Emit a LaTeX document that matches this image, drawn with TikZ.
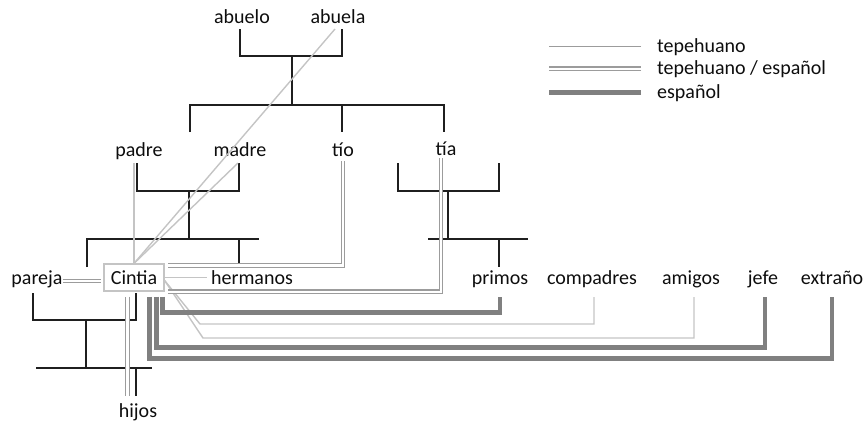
\documentclass[tikz,border=0pt]{standalone}
\usepackage{fontspec}
\setmainfont{Carlito}
\definecolor{txt}{HTML}{0D0D0D}
\definecolor{blk}{HTML}{1F1F1F}
\definecolor{lite}{HTML}{C4C4C4}
\definecolor{dblc}{HTML}{9C9C9C}
\definecolor{thk}{HTML}{808080}
\begin{document}
\begin{tikzpicture}[x=1pt,y=-1pt,
  lbl/.style={font=\fontsize{20}{24}\selectfont, text=txt, inner sep=0pt, anchor=base},
  tree/.style={draw=blk, line width=1.6pt},
  tep/.style={draw=lite, line width=1.4pt},
  dbl/.style={draw=dblc, line width=1.3pt, double=white, double distance=2.2pt},
  esp/.style={draw=thk, line width=4.5pt}]
\useasboundingbox (0,0) rectangle (865,421);
% labels
\node[lbl] (abuelo) at (242,23) {abuelo};
\node[lbl] (abuela) at (338,23) {abuela};
\node[lbl] (padre) at (139,156) {padre};
\node[lbl] (madre) at (240,156) {madre};
\node[lbl] (tio) at (343,156) {tío};
\node[lbl] (tia) at (446,155) {tía};
\node[lbl] (pareja) at (37,284) {pareja};
\node[draw=lite, line width=1.2pt, minimum width=60pt, minimum height=27pt, inner sep=0pt,
      font=\fontsize{20}{24}\selectfont, text=txt] (Cintia) at (134,277.5) {Cintia};
\node[lbl] (hermanos) at (252,284) {hermanos};
\node[lbl] (primos) at (500,284) {primos};
\node[lbl] (compadres) at (592,284) {compadres};
\node[lbl] (amigos) at (691,284) {amigos};
\node[lbl] (jefe) at (763,284) {jefe};
\node[lbl] (extrano) at (832,284) {extraño};
\node[lbl] (hijos) at (138,417) {hijos};
% legend
\node[lbl, anchor=base west] (l1) at (657,52) {tepehuano};
\node[lbl, anchor=base west] (l2) at (657,74) {tepehuano / español};
\node[lbl, anchor=base west] (l3) at (657,98) {español};
\draw[tep, draw=dblc] ([xshift=-16pt]l1.west) -- ++(-92,0);
\draw[dbl] ([xshift=-16pt]l2.west) -- ++(-92,0);
\draw[esp, line width=5.5pt] ([xshift=-16pt]l3.west) -- ++(-92,0);
% family tree (black)
\draw[tree] ([xshift=-2pt,yshift=-6pt]abuelo.base) -- ++(0,27) -| ([xshift=4pt,yshift=-6pt]abuela.base);
\draw[tree] (292,56) -- (292,105);
\draw[tree] (190,132) -- (190,105) -- (444,105) -- (444,132);
\draw[tree] (342,105) -- (342,132);
\draw[tree] (137,163) -- (137,191) -- (239,191) -- (239,163);
\draw[tree] (189,191) -- (189,239);
\draw[tree] (87,267) -- (87,239) -- (259,239);
\draw[tree] (239,239) -- (239,267);
\draw[tree] (398,163) -- (398,191) -- (499,191) -- (499,163);
\draw[tree] (448,191) -- (448,239);
\draw[tree] (428,239) -- (528,239);
\draw[tree] (499,239) -- (499,267);
\draw[tree] (33,293) -- (33,320) -- (136,320) -- (136,293);
\draw[tree] (86,320) -- (86,368);
\draw[tree] (36,368) -- (152,368);
\draw[tree] (136,368) -- (136,396);
% tepehuano connectors
\coordinate (abB) at ([xshift=-3pt,yshift=-6pt]abuela.base);
\coordinate (maB) at ([xshift=-2pt,yshift=-7pt]madre.base);
\coordinate (paB) at ([yshift=-7pt]padre.base);
\draw[tep] (paB -| Cintia.north) -- (Cintia.north);
\draw[tep] (abB) -- (Cintia.north);
\draw[tep] (maB) -- (Cintia.north);
\draw[tep, shorten >=4pt] (Cintia.east) -- (hermanos.west |- Cintia.east);
\draw[tep] ([yshift=-3pt]Cintia.east) -- (200,324) -| ([xshift=2pt,yshift=-13pt]compadres.base);
\draw[tep] ([yshift=-3pt]Cintia.east) -- (203,338) -| ([xshift=3pt,yshift=-13pt]amigos.base);
% tepehuano / espanol connectors
\draw[dbl] ([yshift=-5pt]tio.base) |- ([xshift=3pt,yshift=-2pt]Cintia.north east);
\draw[dbl] ([xshift=-5pt,yshift=-3pt]tia.base) |- ([xshift=3pt]Cintia.south east);
\coordinate (pE) at ([yshift=3pt]pareja.base east);
\draw[dbl, shorten >=2.5pt] (pE) -- (pE -| Cintia.west);
\coordinate (hT) at ([yshift=7pt]hijos.north);
\coordinate (cS) at ([xshift=-6.5pt,yshift=-5pt]Cintia.south);
\draw[dbl] (cS) -- (cS |- hT);
% espanol connectors
\draw[esp] ([xshift=-2pt,yshift=-5pt]Cintia.south east) -- ++(0,16) -| ([yshift=-13pt]primos.base);
\draw[esp] ([xshift=-8pt,yshift=-5pt]Cintia.south east) -- ++(0,51) -| ([xshift=2pt,yshift=-13pt]jefe.base);
\draw[esp] ([xshift=-15pt,yshift=-5pt]Cintia.south east) -- ++(0,62) -| ([yshift=-13pt]extrano.base);
\end{tikzpicture}
\end{document}
